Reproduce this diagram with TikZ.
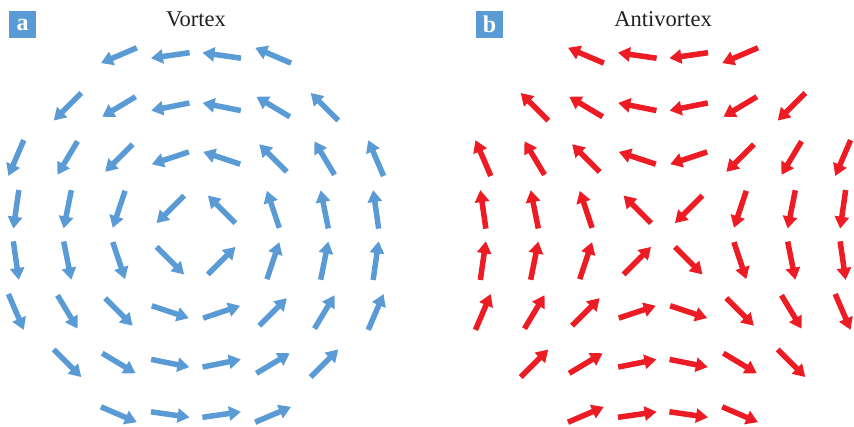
\documentclass[tikz,border=0pt]{standalone}
\usepackage{fontspec}
\setmainfont{Liberation Serif}
\usetikzlibrary{arrows.meta}
\definecolor{vblue}{RGB}{91,155,213}
\definecolor{avred}{RGB}{237,28,36}
\definecolor{titlegray}{RGB}{35,31,32}
\begin{document}
\begin{tikzpicture}[x=1pt,y=1pt,
  spin/.style={line width=5.5pt, -{Triangle[width=14pt,length=12pt]}},
  panellabel/.style={fill=vblue, text=white, minimum size=27pt, inner sep=0pt,
    font=\bfseries\fontsize{24}{24}\selectfont},
  paneltitle/.style={anchor=base, text=titlegray, font=\fontsize{22.5}{24}\selectfont}]
\useasboundingbox (0,0) rectangle (854,426);
% panel labels and titles
\node[panellabel] (la) at (22.5,401.5) {a};
\node[panellabel] (lb) at (489.5,401.5) {b};
\node[paneltitle] (tv) at (196,399) {Vortex};
\node[paneltitle] (ta) at (663,399) {Antivortex};
% spin fields
\foreach \i in {1,...,8}{
  \foreach \j in {1,...,8}{
    \pgfmathsetmacro\dx{\i-4.5}
    \pgfmathsetmacro\dy{4.5-\j}
    \pgfmathtruncatemacro\ok{(\dx*\dx+\dy*\dy<=16)?1:0}
    \ifnum\ok=1
      \pgfmathsetmacro\ang{atan2(\dy,\dx)}
      \pgfmathsetmacro\va{\ang+90}
      \pgfmathsetmacro\aa{270-\ang}
      \pgfmathsetmacro\cx{196+\dx*51.4}
      \pgfmathsetmacro\ax{663+\dx*51.4}
      \pgfmathsetmacro\cy{191+\dy*51.3}
      \draw[spin, vblue] (\cx,\cy) ++(\va+180:19.5) -- ++(\va:39);
      \draw[spin, avred] (\ax,\cy) ++(\aa+180:19.5) -- ++(\aa:39);
    \fi
  }
}
\end{tikzpicture}
\end{document}
